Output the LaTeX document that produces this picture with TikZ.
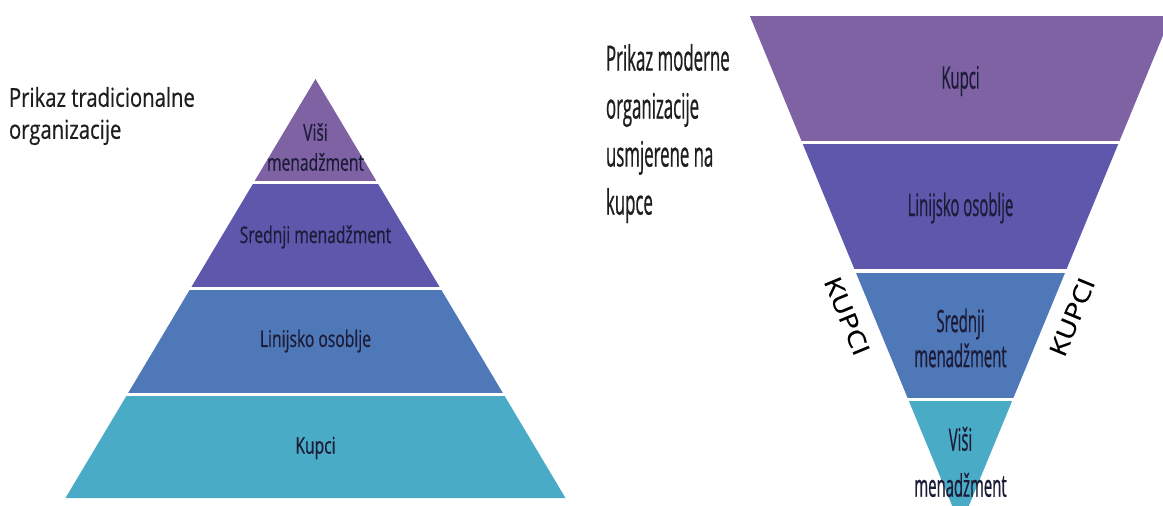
\documentclass[tikz,border=0pt]{standalone}
\usepackage{fontspec}
\usepackage{tikz}
\setmainfont{Open Sans}
\newfontfamily\tradfont{Open Sans}[FakeStretch=0.68, FakeBold=0.5]
\newfontfamily\tradtitlefont{Open Sans}[FakeStretch=0.78, FakeBold=0.5]
\newfontfamily\modfont{Open Sans}[FakeStretch=0.48, FakeBold=0.6]
\newfontfamily\kupfont{Open Sans}[FakeStretch=1.2, FakeBold=0.6]
\definecolor{cViolet}{HTML}{7E62A3}
\definecolor{cIndigo}{HTML}{5E57AC}
\definecolor{cBlue}{HTML}{4F78B9}
\definecolor{cTeal}{HTML}{4AABC6}
\definecolor{cText}{HTML}{1C1C38}
\definecolor{cTitle}{HTML}{1E1E1E}

\begin{document}
\begin{tikzpicture}[x=1pt, y=-1pt, every node/.style={inner sep=0pt, outer sep=0pt}]
	\tikzset{lbl/.style={text=cText, align=center},
		ttl/.style={text=cTitle, align=left, anchor=north west}}
	\useasboundingbox (0,0) rectangle (1163,506);
	\fill[white] (0,0) rectangle (1163,506);
	\clip (0,0) rectangle (1163,506);
	\foreach \top/\bot/\col in {79/180.75/cViolet, 184.75/286.5/cIndigo, 290.5/392.25/cBlue, 396.25/498/cTeal}
	{\begin{scope}
		\clip (0,\top) rectangle (1163,\bot);
		\fill[\col] (315.5,79) -- (65.5,498) -- (565.5,498) -- cycle;
	\end{scope}}
	\foreach \top/\bot/\col in {16/140.1/cViolet, 144.6/268.7/cIndigo, 273.2/397.4/cBlue, 401.9/526/cTeal}
	{\begin{scope}
		\clip (0,\top) rectangle (1163,\bot);
		\fill[\col] (960.5,526) -- (749.9,16) -- (1171.1,16) -- cycle;
	\end{scope}}
	\node[ttl, font={\tradtitlefont\fontsize{26}{32}\selectfont}] (trad) at (9,87) {Prikaz tradicionalne\\organizacije};
	\node[ttl, font={\modfont\fontsize{35}{48}\selectfont}] (mod) at (606,44) {Prikaz moderne\\organizacije\\usmjerene na\\kupce};
	\node[lbl, font={\tradfont\fontsize{23}{30}\selectfont}] (t1) at (315.5,147) {Viši\\menadžment};
	\node[lbl, font={\tradfont\fontsize{23}{30}\selectfont}] (t2) at (315.5,237) {Srednji menadžment};
	\node[lbl, font={\tradfont\fontsize{23}{30}\selectfont}] (t3) at (315.5,341) {Linijsko osoblje};
	\node[lbl, font={\tradfont\fontsize{23}{30}\selectfont}] (t4) at (315.5,448) {Kupci};
	\node[lbl, font={\modfont\fontsize{31}{35}\selectfont}] (m1) at (960.5,81) {Kupci};
	\node[lbl, font={\modfont\fontsize{31}{35}\selectfont}] (m2) at (960.5,208) {Linijsko osoblje};
	\node[lbl, font={\modfont\fontsize{31}{35}\selectfont}] (m3) at (960.5,338) {Srednji\\menadžment};
	\node[lbl, font={\modfont\fontsize{31}{46}\selectfont}] (m4) at (960.5,462) {Viši\\menadžment};
	\node[lbl, text=black, font={\kupfont\fontsize{24}{24}\selectfont}, rotate=-67.6] (k1) at (847,316) {KUPCI};
	\node[lbl, text=black, font={\kupfont\fontsize{24}{24}\selectfont}, rotate=67.6] (k2) at (1072,317) {KUPCI};
\end{tikzpicture}
\end{document}
